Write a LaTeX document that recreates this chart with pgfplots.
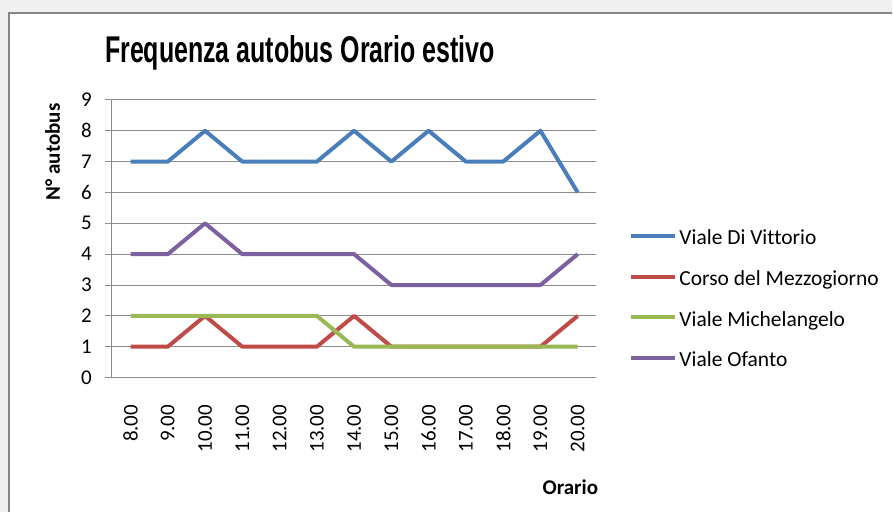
\documentclass[border=0pt]{standalone}
\usepackage{pgfplots}
\pgfplotsset{compat=1.18}
\usepackage{fontspec}
\setmainfont{Carlito}[Ligatures={NoCommon}]
\newfontfamily\titlefont{Liberation Sans}

\definecolor{pagegray}{HTML}{F0F0F0}
\definecolor{framegray}{HTML}{868686}
\definecolor{gridgray}{HTML}{8C8C8C}
\definecolor{cBlue}{HTML}{4A7EBB}
\definecolor{cRed}{HTML}{BE4B48}
\definecolor{cGreen}{HTML}{98B954}
\definecolor{cPurple}{HTML}{7D60A0}

\begin{document}
\begin{tikzpicture}[x=1pt,y=1pt]
  % page and chart frame
  \fill[pagegray] (0,0) rectangle (893,-513);
  \fill[white] (9,-13) rectangle (893,-513);
  \draw[framegray, line width=2pt] (9,-513) -- (9,-13) -- (893,-13);

  % title
  \node[anchor=base west, inner sep=0pt] at (105,-63)
    {\resizebox{390pt}{27pt}{\titlefont\bfseries Frequenza autobus Orario estivo}};

  \begin{axis}[
    at={(112pt,-378pt)}, anchor=south west,
    scale only axis, width=485pt, height=278pt,
    xmin=-0.5, xmax=12.5, ymin=0, ymax=9,
    axis x line*=bottom, axis y line*=left,
    axis line style={gridgray, line width=1pt, -},
    xtick={0,...,12},
    xticklabels={8.00,9.00,10.00,11.00,12.00,13.00,14.00,15.00,16.00,17.00,18.00,19.00,20.00},
    x tick style={draw=none},
    xticklabel style={rotate=90, anchor=east, inner sep=0pt, xshift=-20pt,
      font=\fontsize{21}{21}\selectfont},
    ytick={0,...,9},
    y tick style={gridgray, line width=1pt},
    major tick length=7pt, tick align=outside,
    yticklabel style={anchor=east, inner sep=0pt, xshift=-13pt,
      font=\fontsize{21}{21}\selectfont},
    ymajorgrids, grid style={gridgray, line width=1pt},
    /pgf/number format/assume math mode=true,
    legend style={draw=none, fill=none, at={(axis description cs:1.066,0.525)},
      anchor=north west, inner sep=0pt, row sep=23.7pt,
      nodes={inner sep=0pt, text height=13pt, text depth=4pt},
      /tikz/every even column/.append style={column sep=0pt},
      font=\fontsize{21.5}{21.5}\selectfont},
    legend cell align=left,
    legend image code/.code={\draw[#1, line width=4pt] (0pt,4.5pt) -- (45pt,4.5pt);},
    every axis plot/.append style={line width=4pt, line join=round},
  ]
    \addplot[cBlue] coordinates {(0,7)(1,7)(2,8)(3,7)(4,7)(5,7)(6,8)(7,7)(8,8)(9,7)(10,7)(11,8)(12,6)};
    \addlegendentry{\hspace{2pt}Viale Di Vittorio}
    \addplot[cRed] coordinates {(0,1)(1,1)(2,2)(3,1)(4,1)(5,1)(6,2)(7,1)(8,1)(9,1)(10,1)(11,1)(12,2)};
    \addlegendentry{\hspace{2pt}Corso del Mezzogiorno}
    \addplot[cGreen] coordinates {(0,2)(1,2)(2,2)(3,2)(4,2)(5,2)(6,1)(7,1)(8,1)(9,1)(10,1)(11,1)(12,1)};
    \addlegendentry{\hspace{2pt}Viale Michelangelo}
    \addplot[cPurple] coordinates {(0,4)(1,4)(2,5)(3,4)(4,4)(5,4)(6,4)(7,3)(8,3)(9,3)(10,3)(11,3)(12,4)};
    \addlegendentry{\hspace{2pt}Viale Ofanto}
  \end{axis}

  % axis titles
  \node[rotate=90, anchor=base, inner sep=0pt, font=\fontsize{21}{21}\selectfont\bfseries]
    at (60,-152) {N° autobus};
  \node[anchor=base, inner sep=0pt, font=\fontsize{21}{21}\selectfont\bfseries]
    at (571,-495) {Orario};
\end{tikzpicture}
\end{document}
